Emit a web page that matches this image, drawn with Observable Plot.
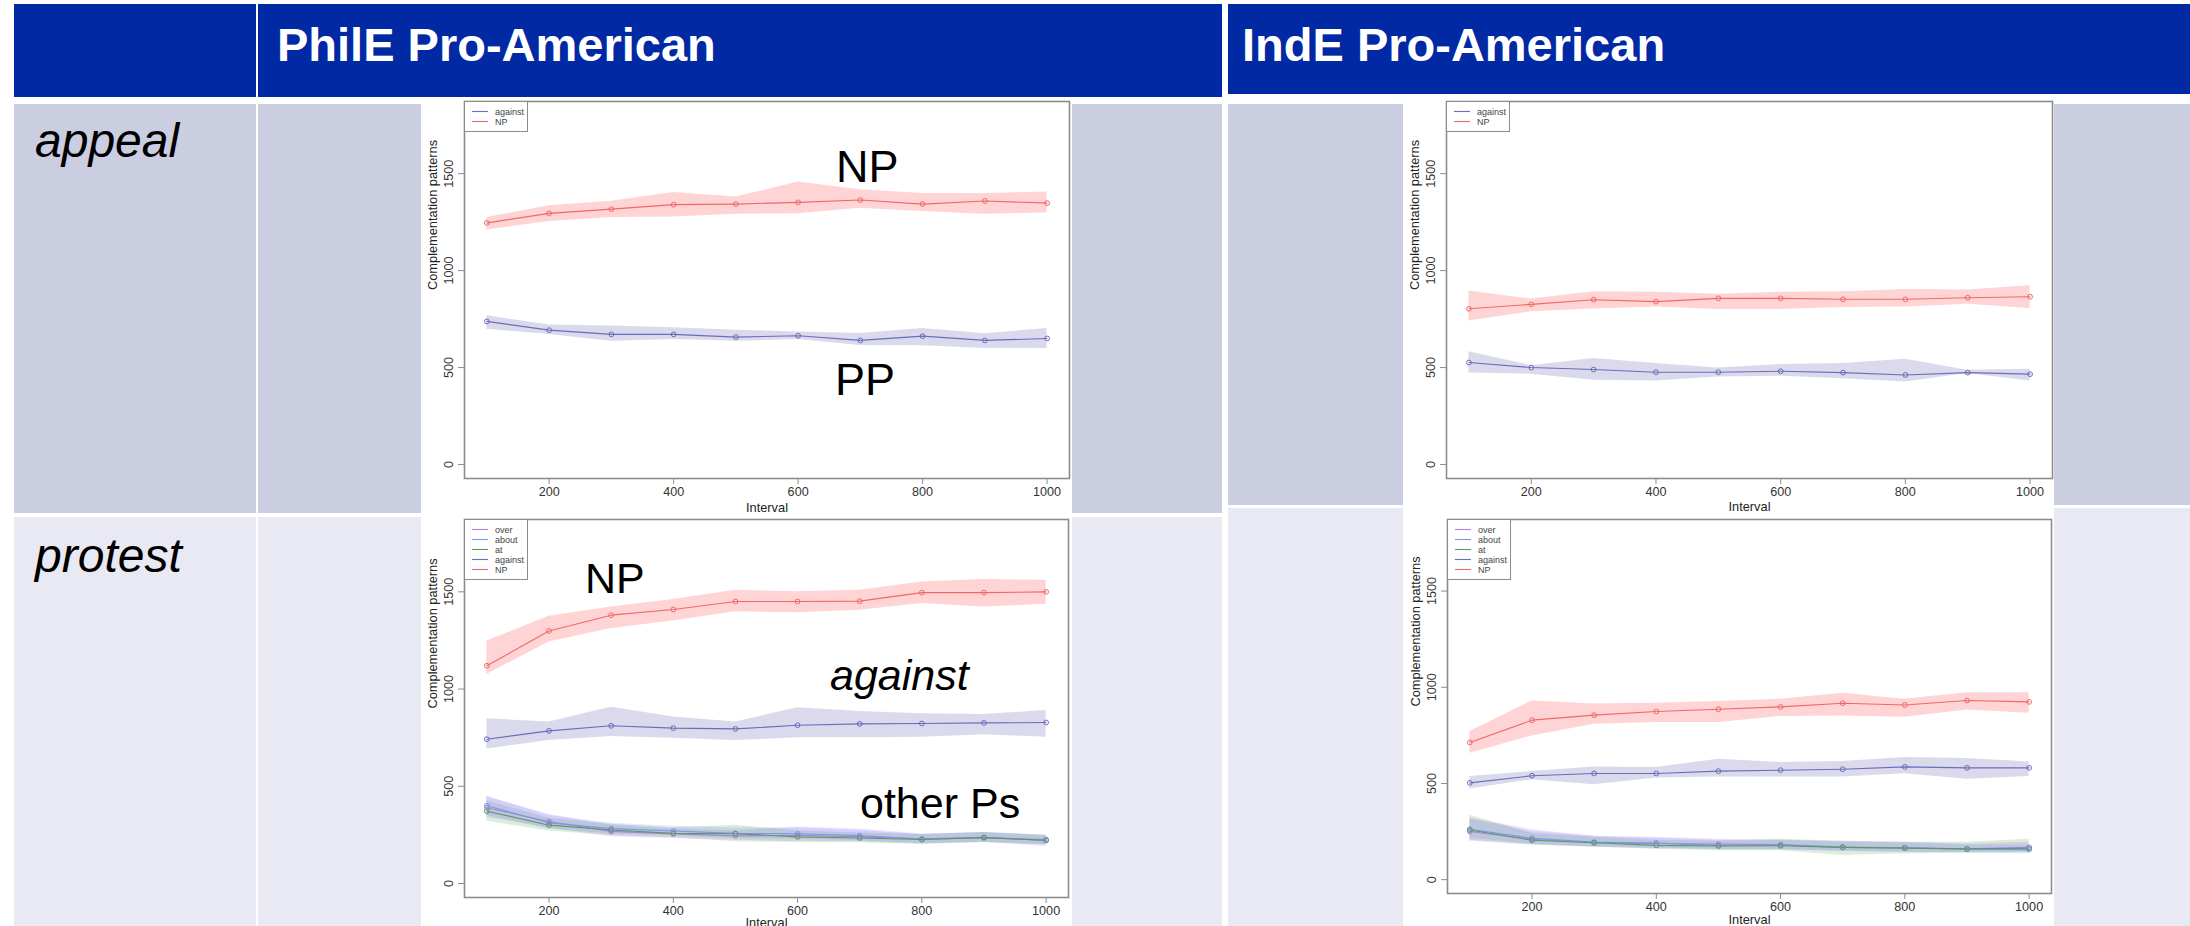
<!DOCTYPE html>
<html>
<head>
<meta charset="utf-8">
<script src="https://cdn.jsdelivr.net/npm/d3@7"></script>
<script src="https://cdn.jsdelivr.net/npm/@observablehq/plot@0.6"></script>
<style>
  body { margin: 0; background: #fff; }
  #slide { position: relative; width: 2190px; height: 926px; overflow: hidden; background: #fff;
           font-family: "Liberation Sans", Arial, Helvetica, sans-serif; }
  .layer { position: absolute; left: 0; top: 0; }
  .panel { position: absolute; background: #fff; }
  .panel svg { display: block; }
</style>
</head>
<body>
<div id="slide"></div>
<script>
// ---- data: complementation patterns per sampling interval (mean and band) ----
const intervals = [100, 200, 300, 400, 500, 600, 700, 800, 900, 1000];
const xTicks = [200, 400, 600, 800, 1000];
const yTicks = [0, 500, 1000, 1500];

// PhilE, appeal
const philAppealNP        = [1246, 1295, 1317, 1340, 1343, 1352, 1364, 1343, 1359, 1348];
const philAppealNPLow     = [1210, 1253, 1274, 1276, 1291, 1293, 1322, 1305, 1291, 1297];
const philAppealNPHigh    = [1274, 1334, 1357, 1403, 1379, 1457, 1417, 1397, 1397, 1405];
const philAppealAgainst     = [738, 693, 671, 671, 657, 664, 640, 662, 640, 650];
const philAppealAgainstLow  = [697, 671, 636, 645, 636, 645, 614, 612, 598, 598];
const philAppealAgainstHigh = [767, 719, 714, 705, 693, 684, 676, 702, 674, 702];

// IndE, appeal
const indAppealNP        = [803, 826, 850, 840, 857, 857, 852, 852, 860, 865];
const indAppealNPLow     = [740, 788, 802, 812, 800, 800, 810, 812, 826, 805];
const indAppealNPHigh    = [895, 853, 891, 888, 878, 888, 891, 903, 900, 922];
const indAppealAgainst     = [526, 500, 490, 476, 476, 481, 474, 462, 474, 466];
const indAppealAgainstLow  = [472, 466, 434, 431, 452, 455, 443, 426, 469, 431];
const indAppealAgainstHigh = [581, 510, 547, 521, 498, 516, 521, 543, 486, 491];

// PhilE, protest
const philProtestNP        = [1120, 1299, 1380, 1409, 1450, 1450, 1452, 1496, 1496, 1500];
const philProtestNPLow     = [1075, 1242, 1311, 1350, 1397, 1392, 1405, 1440, 1422, 1436];
const philProtestNPHigh    = [1247, 1374, 1422, 1460, 1508, 1500, 1508, 1551, 1563, 1560];
const philProtestAgainst     = [742, 785, 811, 799, 795, 814, 821, 823, 826, 828];
const philProtestAgainstLow  = [692, 735, 756, 747, 735, 749, 749, 752, 765, 752];
const philProtestAgainstHigh = [847, 831, 907, 856, 830, 904, 885, 873, 869, 890];
const philProtestOver      = [390, 318, 268, 255, 245, 248, 240, 230, 238, 222];
const philProtestOverLow   = [340, 285, 240, 232, 222, 215, 215, 205, 212, 190];
const philProtestOverHigh  = [445, 355, 300, 280, 270, 290, 280, 255, 262, 245];
const philProtestAbout     = [400, 312, 282, 270, 258, 256, 246, 228, 235, 226];
const philProtestAboutLow  = [350, 280, 255, 245, 232, 228, 220, 205, 210, 200];
const philProtestAboutHigh = [450, 350, 310, 295, 285, 285, 272, 252, 262, 250];
const philProtestAt        = [372, 300, 275, 258, 256, 240, 234, 226, 236, 222];
const philProtestAtLow     = [320, 270, 245, 235, 215, 212, 210, 200, 212, 198];
const philProtestAtHigh    = [425, 335, 305, 285, 300, 270, 260, 252, 262, 248];

// IndE, protest
const indProtestNP        = [713, 829, 855, 874, 886, 898, 917, 908, 931, 924];
const indProtestNPLow     = [657, 747, 808, 817, 817, 848, 851, 844, 882, 865];
const indProtestNPHigh    = [770, 929, 913, 917, 926, 938, 969, 938, 972, 972];
const indProtestAgainst     = [503, 540, 552, 552, 564, 569, 574, 586, 581, 581];
const indProtestAgainstLow  = [471, 519, 493, 528, 533, 533, 533, 550, 522, 536];
const indProtestAgainstHigh = [536, 562, 585, 583, 626, 609, 614, 635, 630, 611];
const indProtestOver      = [250, 210, 192, 188, 185, 182, 170, 165, 160, 168];
const indProtestOverLow   = [200, 180, 168, 160, 158, 155, 148, 145, 140, 145];
const indProtestOverHigh  = [320, 260, 225, 220, 210, 205, 200, 195, 185, 195];
const indProtestAbout     = [262, 215, 195, 190, 178, 180, 168, 166, 158, 156];
const indProtestAboutLow  = [215, 185, 170, 165, 155, 155, 148, 140, 138, 135];
const indProtestAboutHigh = [315, 250, 225, 215, 205, 205, 195, 190, 180, 180];
const indProtestAt        = [258, 205, 192, 178, 175, 176, 168, 164, 160, 163];
const indProtestAtLow     = [205, 180, 170, 158, 150, 150, 125, 135, 140, 140];
const indProtestAtHigh    = [335, 240, 220, 205, 200, 210, 200, 195, 195, 210];

// slide text
const columnTitles = ["PhilE Pro-American", "IndE Pro-American"];
const rowTitles = ["appeal", "protest"];

// ---- styling ----
const palette = {
  over:    {line: "#b07fe0", band: "#b060ff"},
  about:   {line: "#7f96e6", band: "#5f86ff"},
  at:      {line: "#5a9a60", band: "#3f9f3f"},
  against: {line: "#6c6cbc", band: "#3a3a9a"},
  NP:      {line: "#f26868", band: "#ff1a1a"}
};
const bandOpacity = 0.19;
const axisGrey = "#8c8c8c";
const font = '"Liberation Sans", Arial, Helvetica, sans-serif';
const plainNumber = d => String(d);

const S = (name, mean, low, high) => ({name, mean, low, high});

const panels = [
  { // PhilE appeal
    box: {left: 421, top: 97, width: 651, height: 418},
    margin: {top: 4, right: 3, bottom: 37, left: 43},
    labelGap: 29,
    series: [S("against", philAppealAgainst, philAppealAgainstLow, philAppealAgainstHigh),
             S("NP", philAppealNP, philAppealNPLow, philAppealNPHigh)],
    notes: [{text: "NP", x: 836, y: 182, size: 45}, {text: "PP", x: 835, y: 395, size: 45}]
  },
  { // IndE appeal
    box: {left: 1403, top: 97, width: 651, height: 418},
    margin: {top: 4, right: 2, bottom: 37, left: 43},
    labelGap: 28,
    series: [S("against", indAppealAgainst, indAppealAgainstLow, indAppealAgainstHigh),
             S("NP", indAppealNP, indAppealNPLow, indAppealNPHigh)],
    notes: []
  },
  { // PhilE protest
    box: {left: 421, top: 517, width: 651, height: 409},
    margin: {top: 2, right: 4, bottom: 29, left: 43},
    labelGap: 25,
    series: [S("over", philProtestOver, philProtestOverLow, philProtestOverHigh),
             S("about", philProtestAbout, philProtestAboutLow, philProtestAboutHigh),
             S("at", philProtestAt, philProtestAtLow, philProtestAtHigh),
             S("against", philProtestAgainst, philProtestAgainstLow, philProtestAgainstHigh),
             S("NP", philProtestNP, philProtestNPLow, philProtestNPHigh)],
    notes: [{text: "NP", x: 585, y: 593, size: 43},
            {text: "against", x: 830, y: 690, size: 43, italic: true},
            {text: "other Ps", x: 860, y: 818, size: 43}]
  },
  { // IndE protest
    box: {left: 1403, top: 515, width: 651, height: 411},
    margin: {top: 4, right: 3, bottom: 33, left: 44},
    labelGap: 26,
    series: [S("over", indProtestOver, indProtestOverLow, indProtestOverHigh),
             S("about", indProtestAbout, indProtestAboutLow, indProtestAboutHigh),
             S("at", indProtestAt, indProtestAtLow, indProtestAtHigh),
             S("against", indProtestAgainst, indProtestAgainstLow, indProtestAgainstHigh),
             S("NP", indProtestNP, indProtestNPLow, indProtestNPHigh)],
    notes: []
  }
];

// ---- slide background: header band and table cells ----
const W = 2190, H = 926;
const slide = d3.select("#slide");
const bg = slide.append("svg").attr("class", "layer").attr("width", W).attr("height", H);
const blue = "#0029a3", rowA = "#cbcee1", rowB = "#e8e9f2";
const cells = [
  [14, 4, 242, 93, blue], [258, 4, 964, 93, blue], [1228, 4, 962, 90, blue],
  [14, 104, 242, 409, rowA], [258, 104, 163, 409, rowA], [1072, 104, 150, 409, rowA],
  [1228, 104, 175, 401, rowA], [2054, 104, 136, 401, rowA],
  [14, 517, 242, 409, rowB], [258, 517, 163, 409, rowB], [1072, 517, 150, 409, rowB],
  [1228, 508, 175, 418, rowB], [2054, 508, 136, 418, rowB]
];
bg.selectAll("rect").data(cells).join("rect")
  .attr("x", d => d[0]).attr("y", d => d[1]).attr("width", d => d[2]).attr("height", d => d[3])
  .attr("fill", d => d[4]);

bg.selectAll("text.col").data(columnTitles).join("text").attr("class", "col")
  .attr("x", (d, i) => [277, 1242][i]).attr("y", 61)
  .attr("fill", "#fff").attr("font-family", font).attr("font-weight", "bold").attr("font-size", 47)
  .text(d => d);
bg.selectAll("text.row").data(rowTitles).join("text").attr("class", "row")
  .attr("x", 35).attr("y", (d, i) => [157, 572][i])
  .attr("fill", "#000").attr("font-family", font).attr("font-style", "italic").attr("font-size", 48)
  .text(d => d);

// ---- the four line charts ----
for (const p of panels) {
  const rows = p.series.flatMap(s => intervals.map((x, i) => ({
    series: s.name, x, mean: s.mean[i], low: s.low[i], high: s.high[i]
  })));
  const of = name => rows.filter(r => r.series === name);
  const chart = Plot.plot({
    width: p.box.width, height: p.box.height,
    marginTop: p.margin.top, marginRight: p.margin.right,
    marginBottom: p.margin.bottom, marginLeft: p.margin.left,
    x: {domain: [64, 1036]},
    y: {domain: [-72, 1872]},
    style: {background: "#fff", fontFamily: font, fontSize: "12.6px", color: "#333"},
    marks: [
      ...p.series.map(s => Plot.areaY(of(s.name), {
        x: "x", y1: "low", y2: "high", fill: palette[s.name].band, fillOpacity: bandOpacity
      })),
      ...p.series.map(s => Plot.lineY(of(s.name), {
        x: "x", y: "mean", stroke: palette[s.name].line, strokeWidth: 1.1
      })),
      ...p.series.map(s => Plot.dot(of(s.name), {
        x: "x", y: "mean", r: 2.4, stroke: palette[s.name].line, strokeWidth: 1, fill: "none"
      })),
      Plot.frame({stroke: axisGrey, strokeWidth: 1.6}),
      Plot.axisX({ticks: xTicks, tickFormat: plainNumber, tickSize: 6, tickPadding: 3,
                  stroke: axisGrey, fill: "#333", label: null}),
      Plot.axisY({ticks: yTicks, tickFormat: plainNumber, tickSize: 6, tickPadding: 5.5, tickRotate: -90,
                  textAnchor: "middle", lineAnchor: "bottom", stroke: axisGrey, fill: "#333", label: null}),
      Plot.text(["Interval"], {text: d => d, frameAnchor: "bottom", dy: p.labelGap, lineAnchor: "middle",
                  fill: "#222", fontSize: 12.8}),
      Plot.text(["Complementation patterns"], {text: d => d, frameAnchor: "left", dx: -32, rotate: -90,
                  lineAnchor: "middle", fill: "#222", fontSize: 12.8})
    ]
  });
  const holder = slide.append("div").attr("class", "panel")
    .style("left", p.box.left + "px").style("top", p.box.top + "px");
  holder.node().appendChild(chart);
}

// ---- legends and slide annotations on top ----
const over = slide.append("svg").attr("class", "layer").attr("width", W).attr("height", H)
  .style("pointer-events", "none");
for (const p of panels) {
  const x0 = p.box.left + p.margin.left, y0 = p.box.top + p.margin.top;
  const names = p.series.map(s => s.name);
  const g = over.append("g");
  g.append("rect").attr("x", x0 + 0.5).attr("y", y0 + 0.5)
    .attr("width", 63).attr("height", 10 * names.length + 10)
    .attr("fill", "#fff").attr("stroke", axisGrey).attr("stroke-width", 1);
  names.forEach((n, i) => {
    const cy = y0 + 10.5 + 10 * i;
    g.append("line").attr("x1", x0 + 8).attr("x2", x0 + 24).attr("y1", cy).attr("y2", cy)
      .attr("stroke", palette[n].line).attr("stroke-width", 1.1);
    g.append("text").attr("x", x0 + 31).attr("y", cy + 3.2)
      .attr("font-family", font).attr("font-size", 9).attr("fill", "#444").text(n);
  });
  for (const n of p.notes) {
    over.append("text").attr("x", n.x).attr("y", n.y)
      .attr("font-family", font).attr("font-size", n.size)
      .attr("font-style", n.italic ? "italic" : "normal").attr("fill", "#000").text(n.text);
  }
}
</script>
</body>
</html>
